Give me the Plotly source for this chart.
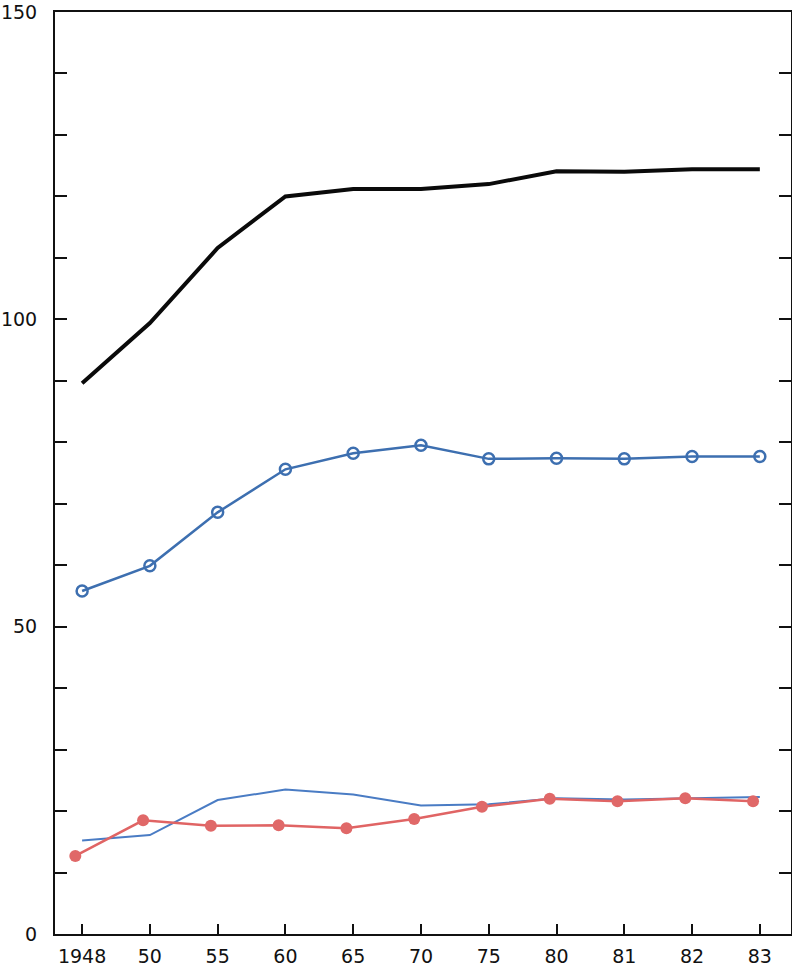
import plotly.graph_objects as go

years = ["1948", "50", "55", "60", "65", "70", "75", "80", "81", "82", "83"]
black_vals = [89.6, 99.4, 111.6, 120.0, 121.2, 121.2, 122.0, 124.1, 124.0, 124.4, 124.4]
blue_circle_vals = [55.8, 59.9, 68.6, 75.6, 78.2, 79.5, 77.3, 77.4, 77.3, 77.7, 77.7]
blue_thin_vals = [15.2, 16.1, 21.8, 23.5, 22.7, 20.9, 21.1, 22.1, 21.9, 22.1, 22.3]
red_vals = [12.7, 18.5, 17.6, 17.7, 17.2, 18.7, 20.7, 22.0, 21.6, 22.1, 21.6]
y_tick_vals = [0, 50, 100, 150]

font = dict(family="DejaVu Sans", size=19, color="#111")

fig = go.Figure()
fig.add_trace(go.Scatter(x=years, y=black_vals, mode="lines",
                         line=dict(color="#0a0a0a", width=4)))
fig.add_trace(go.Scatter(x=years, y=blue_circle_vals, mode="lines+markers",
                         line=dict(color="#3d6fb0", width=2.5),
                         marker=dict(symbol="circle-open", size=11, color="#3d6fb0",
                                     line=dict(width=2.5))))
fig.add_trace(go.Scatter(x=years, y=blue_thin_vals, mode="lines",
                         line=dict(color="#4a7cc4", width=2)))
fig.add_trace(go.Scatter(x=years, y=red_vals, mode="lines+markers", xaxis="x2",
                         line=dict(color="#e06464", width=2.5),
                         marker=dict(symbol="circle", size=12, color="#e06868")))

fig.update_layout(
    width=792, height=971,
    margin=dict(l=55, r=1, t=12, b=37, autoexpand=False),
    paper_bgcolor="white", plot_bgcolor="white",
    showlegend=False,
    font=font,
    xaxis=dict(type="category", range=[-0.4, 10.46], showgrid=False, zeroline=False,
               showline=True, linecolor="#111", linewidth=2, mirror=True,
               ticks="inside", ticklen=10, tickwidth=2, tickcolor="#111",
               tickfont=font, automargin=False, ticklabelstandoff=4),
    xaxis2=dict(type="category", range=[-0.3, 10.56], overlaying="x", visible=False),
    yaxis=dict(range=[0, 150], tickvals=y_tick_vals, showgrid=False, zeroline=False,
               showline=True, linecolor="#111", linewidth=2, mirror="ticks",
               ticks="inside", ticklen=12, tickwidth=2, tickcolor="#111",
               tickfont=font, automargin=False, ticklabelstandoff=12,
               minor=dict(dtick=10, ticks="inside", ticklen=12, tickwidth=2,
                          tickcolor="#111", showgrid=False)),
)

post = ("document.body.style.margin='0';document.body.style.padding='0';"
        "document.body.style.overflow='hidden';"
        "document.documentElement.style.overflow='hidden';")

fig.write_html("out.html", config={"responsive": False, "displayModeBar": False},
               post_script=post)
